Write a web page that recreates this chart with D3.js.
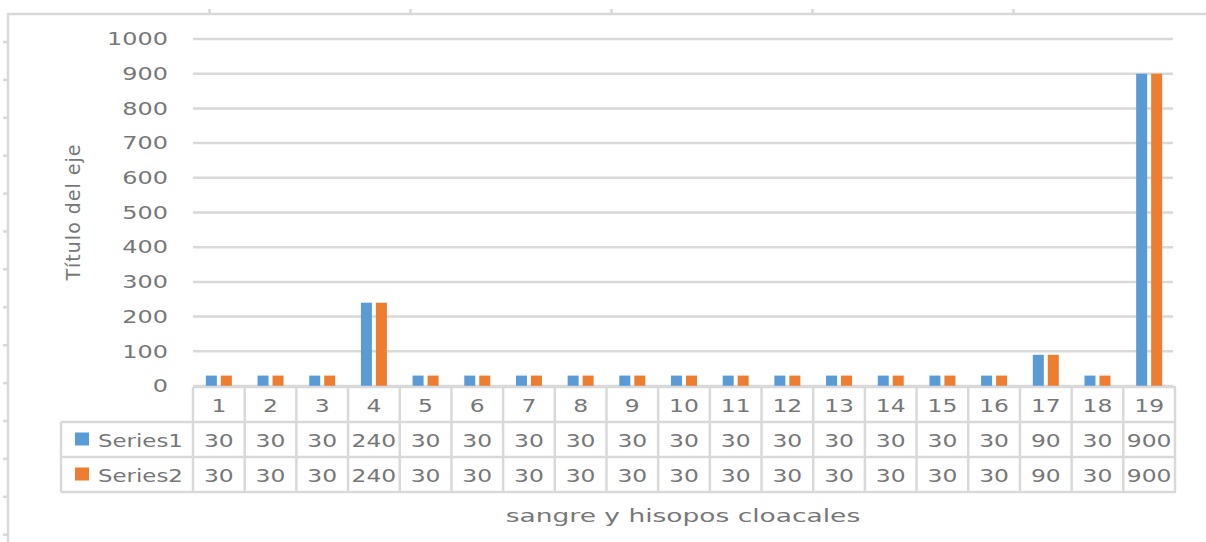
<!DOCTYPE html>
<html>
<head>
<meta charset="utf-8">
<script src="https://cdn.jsdelivr.net/npm/d3@7"></script>
<style>
  html, body { margin: 0; padding: 0; background: #ffffff; }
  svg { display: block; }
  text { font-family: "DejaVu Sans", sans-serif; fill: #777777; }
</style>
</head>
<body>
<script>
// ---- data ----
const categories = ["1","2","3","4","5","6","7","8","9","10","11","12","13","14","15","16","17","18","19"];
const seriesNames = ["Series1", "Series2"];
const series1 = [30,30,30,240,30,30,30,30,30,30,30,30,30,30,30,30,90,30,900];
const series2 = [30,30,30,240,30,30,30,30,30,30,30,30,30,30,30,30,90,30,900];
const yTicks = [0,100,200,300,400,500,600,700,800,900,1000];
const yTitle = "Título del eje";
const xTitle = "sangre y hisopos cloacales";
const colors = ["#5B9BD5", "#ED7D31"];

const W = 1206, H = 542;
const grid = "#d9d9d9";
const textColor = "#777777";
const svg = d3.select("body").append("svg").attr("width", W).attr("height", H);

// horizontally widen glyphs like the reference rendering
function stretch(sel, f) {
  sel.each(function () {
    const w = this.getComputedTextLength();
    d3.select(this).attr("textLength", w * f).attr("lengthAdjust", "spacingAndGlyphs");
  });
}

// ---- decorative page frame (ruler-like) ----
const frame = svg.append("g");
frame.append("line").attr("x1", 7).attr("x2", W).attr("y1", 14).attr("y2", 14)
  .attr("stroke", grid).attr("stroke-width", 2.5);
frame.append("line").attr("x1", 8).attr("x2", 8).attr("y1", 13).attr("y2", H)
  .attr("stroke", grid).attr("stroke-width", 2.5);
frame.selectAll(".tt").data(d3.range(5)).join("line")
  .attr("x1", i => 209.5 + i * 201).attr("x2", i => 209.5 + i * 201)
  .attr("y1", 9).attr("y2", 14).attr("stroke", grid).attr("stroke-width", 2.5);
frame.selectAll(".lt").data(d3.range(14)).join("line")
  .attr("x1", 3).attr("x2", 8)
  .attr("y1", i => 42 + i * 37.9).attr("y2", i => 42 + i * 37.9)
  .attr("stroke", grid).attr("stroke-width", 2.5);

// ---- scales ----
const plotL = 193, plotR = 1175;
const y0 = 386, y1 = 39;
const x = d3.scaleBand().domain(categories).range([plotL, plotR]).paddingInner(0).paddingOuter(0);
const xs = d3.scaleBand().domain(seriesNames).range([0, x.bandwidth()]).paddingInner(0.267).paddingOuter(0.857);
const y = d3.scaleLinear().domain([0, 1000]).range([y0, y1]);

// gridlines
svg.append("g").selectAll("line").data(yTicks).join("line")
  .attr("x1", plotL).attr("x2", plotR - 2)
  .attr("y1", d => y(d)).attr("y2", d => y(d))
  .attr("stroke", grid).attr("stroke-width", 2.5);

// y axis labels
const yAxis = svg.append("g").attr("transform", `translate(${plotL},0)`)
  .call(d3.axisLeft(y).tickValues(yTicks).tickSize(0).tickPadding(25).tickFormat(d3.format("d")));
yAxis.select(".domain").remove();
yAxis.selectAll("text").style("font-family", "DejaVu Sans").style("font-size", "18px")
  .attr("fill", textColor).call(stretch, 1.33);

// bars
const seriesData = [series1, series2];
seriesNames.forEach((s, si) => {
  svg.append("g").selectAll("rect").data(categories).join("rect")
    .attr("x", c => x(c) + xs(s))
    .attr("width", xs.bandwidth())
    .attr("y", (c, i) => y(seriesData[si][i]))
    .attr("height", (c, i) => y(0) - y(seriesData[si][i]))
    .attr("fill", colors[si]);
});

// ---- data table ----
const tTop = 387, rowH = 35, legL = 61;
const tbl = svg.append("g");
const hl = [
  { y: tTop, x1: plotL },
  { y: tTop + rowH, x1: legL },
  { y: tTop + 2 * rowH, x1: legL },
  { y: tTop + 3 * rowH, x1: legL }
];
tbl.selectAll(".h").data(hl).join("line")
  .attr("x1", d => d.x1).attr("x2", plotR + 1)
  .attr("y1", d => d.y).attr("y2", d => d.y)
  .attr("stroke", grid).attr("stroke-width", 2.5);
const vx = categories.map(c => x(c)).concat([plotR]);
tbl.selectAll(".v").data(vx).join("line")
  .attr("x1", d => d).attr("x2", d => d)
  .attr("y1", tTop).attr("y2", tTop + 3 * rowH)
  .attr("stroke", grid).attr("stroke-width", 2.5);
tbl.append("line").attr("x1", legL).attr("x2", legL)
  .attr("y1", tTop + rowH).attr("y2", tTop + 3 * rowH)
  .attr("stroke", grid).attr("stroke-width", 2.5);

const cellText = (sel) => sel.attr("text-anchor", "middle").attr("dominant-baseline", "central")
  .style("font-size", "18px");

tbl.selectAll(".cat").data(categories).join("text")
  .attr("x", c => x(c) + x.bandwidth() / 2)
  .attr("y", tTop + rowH / 2 + 1)
  .text(c => c).call(cellText).call(stretch, 1.3);

seriesData.forEach((vals, si) => {
  const ry = tTop + rowH * (si + 1) + rowH / 2 + 1;
  tbl.append("g").selectAll("text").data(vals).join("text")
    .attr("x", (v, i) => x(categories[i]) + x.bandwidth() / 2)
    .attr("y", ry).text(v => v).call(cellText).call(stretch, 1.3);
  tbl.append("rect").attr("x", 75).attr("y", ry - 8).attr("width", 14).attr("height", 13)
    .attr("fill", colors[si]);
  tbl.append("text").attr("x", 98).attr("y", ry).attr("dominant-baseline", "central")
    .style("font-size", "18px").text(seriesNames[si]).call(stretch, 1.27);
});

// axis titles
svg.append("text").attr("x", 683).attr("y", 515)
  .attr("text-anchor", "middle").attr("dominant-baseline", "central")
  .style("font-size", "18px").text(xTitle).call(stretch, 1.47);

svg.append("text").attr("transform", "translate(73,212) rotate(-90)")
  .attr("text-anchor", "middle").attr("dominant-baseline", "central")
  .style("font-size", "19px").style("letter-spacing", "1px").text(yTitle);
</script>
</body>
</html>
